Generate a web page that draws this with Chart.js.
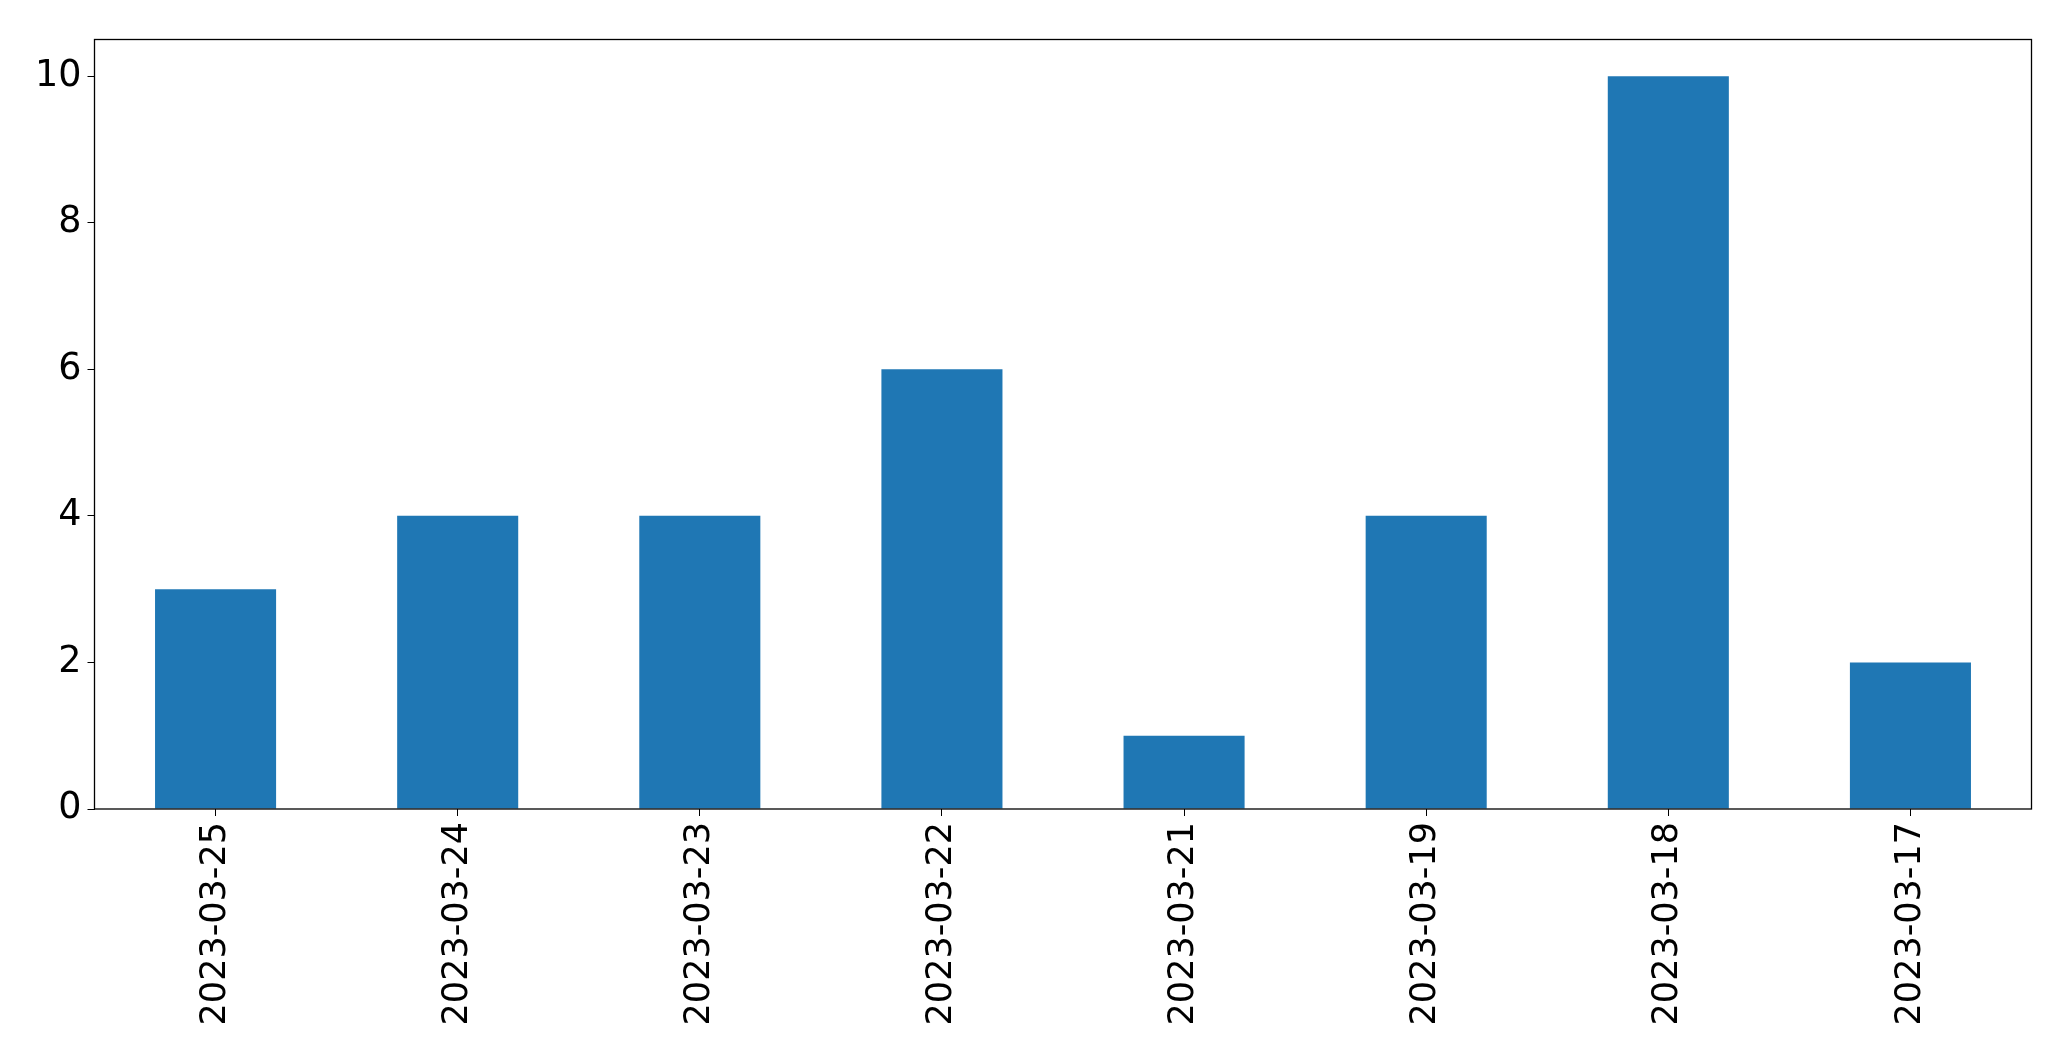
<!DOCTYPE html>
<html>
<head>
<meta charset="utf-8">
<script src="https://cdn.jsdelivr.net/npm/chart.js@4"></script>
<style>
  html, body { margin: 0; padding: 0; background: #fff; }
  #wrap { width: 2071px; height: 1061px; }
</style>
</head>
<body>
<div id="wrap"><canvas id="chart" width="2071" height="1061"></canvas></div>
<script>
const dates = ['2023-03-25', '2023-03-24', '2023-03-23', '2023-03-22', '2023-03-21', '2023-03-19', '2023-03-18', '2023-03-17'];
const counts = [3, 4, 4, 6, 1, 4, 10, 2];
const yTicks = [0, 2, 4, 6, 8, 10];

// draws the full frame round the plot area
const frame = {
  id: 'frame',
  afterDraw(chart) {
    const { ctx, chartArea: a } = chart;
    ctx.save();
    ctx.strokeStyle = '#000';
    ctx.lineWidth = 1.3;
    ctx.strokeRect(a.left, a.top, a.right - a.left, a.bottom - a.top);
    ctx.restore();
  }
};

new Chart(document.getElementById('chart'), {
  type: 'bar',
  data: {
    labels: dates,
    datasets: [{
      data: counts,
      backgroundColor: '#1f77b4',
      categoryPercentage: 1,
      barPercentage: 0.5
    }]
  },
  options: {
    responsive: false,
    animation: false,
    layout: { padding: { top: 39.5, right: 39.5, left: 0, bottom: 0 } },
    plugins: { legend: { display: false }, tooltip: { enabled: false } },
    scales: {
      x: {
        offset: true,
        grid: { display: true, drawOnChartArea: false, drawTicks: true, tickLength: 7, color: '#000', offset: false },
        border: { display: false },
        ticks: { color: '#000', font: { family: 'DejaVu Sans', size: 35 }, minRotation: 90, maxRotation: 90, padding: 6, autoSkip: false },
        afterFit(s) { s.height = 1061 - 809; }
      },
      y: {
        min: 0,
        max: 10.5,
        afterBuildTicks(s) { s.ticks = yTicks.map(v => ({ value: v })); },
        grid: { display: true, drawOnChartArea: false, drawTicks: true, tickLength: 7, color: '#000' },
        border: { display: false },
        ticks: { color: '#000', font: { family: 'DejaVu Sans', size: 36.5 }, padding: 6 },
        afterFit(s) { s.width = 94.5; }
      }
    }
  },
  plugins: [frame]
});
</script>
</body>
</html>
